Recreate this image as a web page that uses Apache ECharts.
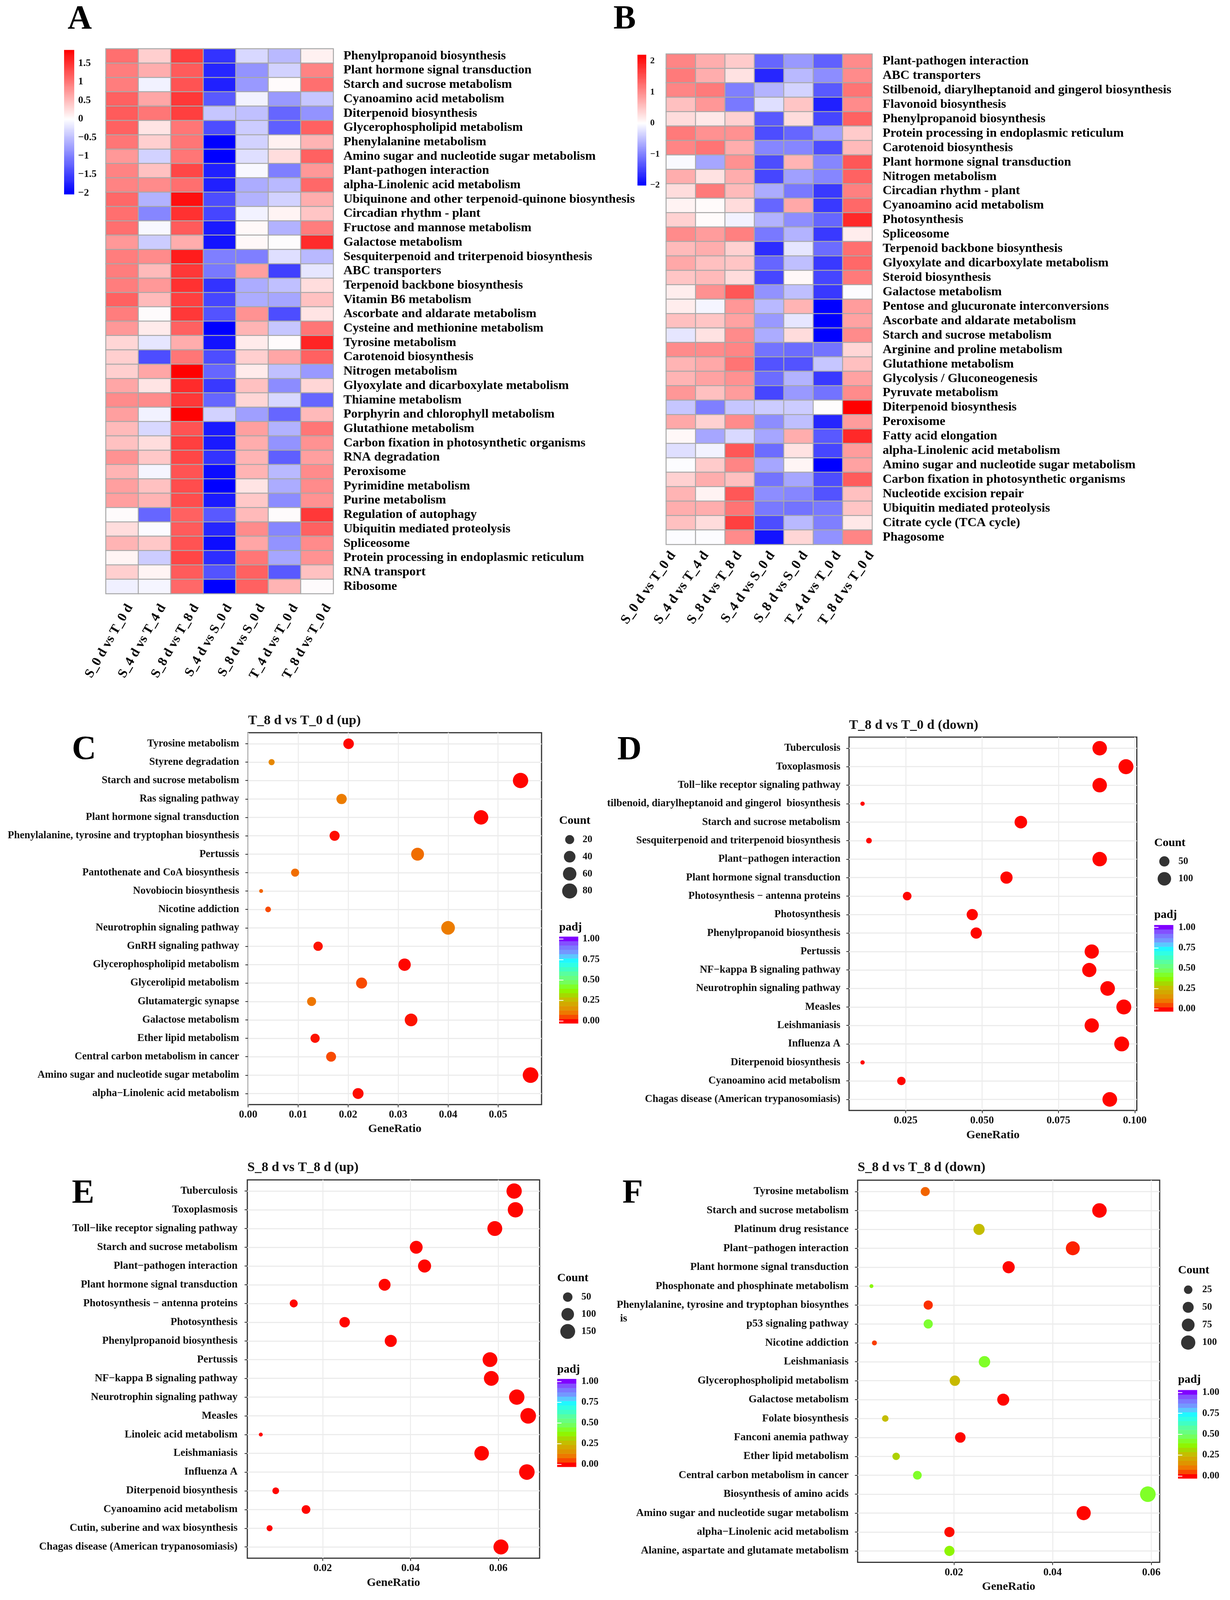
<!DOCTYPE html>
<html><head><meta charset="utf-8">
<style>html,body{margin:0;padding:0;background:#fff;overflow:hidden}#c{width:3148px}</style>
<script src="https://cdn.jsdelivr.net/npm/echarts@6/dist/echarts.min.js"></script>
</head><body><div id="c"></div>
<script>
const FONT='"Liberation Serif",serif';
const compLabels=['S_0 d vs T_0 d','S_4 d vs T_4 d','S_8 d vs T_8 d','S_4 d vs S_0 d','S_8 d vs S_0 d','T_4 d vs T_0 d','T_8 d vs T_0 d'];

const aPathways=['Phenylpropanoid biosynthesis','Plant hormone signal transduction','Starch and sucrose metabolism','Cyanoamino acid metabolism','Diterpenoid biosynthesis','Glycerophospholipid metabolism','Phenylalanine metabolism','Amino sugar and nucleotide sugar metabolism','Plant-pathogen interaction','alpha-Linolenic acid metabolism','Ubiquinone and other terpenoid-quinone biosynthesis','Circadian rhythm - plant','Fructose and mannose metabolism','Galactose metabolism','Sesquiterpenoid and triterpenoid biosynthesis','ABC transporters','Terpenoid backbone biosynthesis','Vitamin B6 metabolism','Ascorbate and aldarate metabolism','Cysteine and methionine metabolism','Tyrosine metabolism','Carotenoid biosynthesis','Nitrogen metabolism','Glyoxylate and dicarboxylate metabolism','Thiamine metabolism','Porphyrin and chlorophyll metabolism','Glutathione metabolism','Carbon fixation in photosynthetic organisms','RNA degradation','Peroxisome','Pyrimidine metabolism','Purine metabolism','Regulation of autophagy','Ubiquitin mediated proteolysis','Spliceosome','Protein processing in endoplasmic reticulum','RNA transport','Ribosome'];
const aValues=[
[1.05,.35,1.4,-1.6,-.3,-.55,.1],[.95,.6,1.2,-1.7,-.85,-.35,.9],[.95,-.1,1.25,-1.75,-.8,.02,1.05],[1.15,.65,1.45,-1.3,-.1,-.8,-.45],[1.2,1.0,1.4,-.45,-.5,-1.2,-.85],
[1.15,.2,1.0,-1.4,-.4,-1.25,1.15],[1.0,.35,1.0,-2.0,-.35,.1,.55],[.75,-.35,1.0,-2.0,-.25,.25,1.15],[.9,.45,1.35,-1.75,-.05,-1.0,.75],[.9,.85,1.05,-1.75,-.65,-.55,1.1],
[1.1,-.6,1.75,-1.4,-.6,-.35,.6],[1.05,-.95,1.5,-1.45,-.1,.08,.42],[1.05,-.05,1.2,-1.8,.05,-.6,.95],[.75,-.4,.6,-1.85,.05,0,1.55],[.95,.85,1.65,-1.0,-1.0,-.25,-.55],
[.95,.5,1.45,-1.05,.7,-1.5,-.2],[.95,.75,1.5,-1.6,-.65,-.5,.25],[1.15,.5,1.4,-1.45,-.65,-.7,.45],[.95,.01,1.45,-1.35,.8,-1.4,.2],[.75,.15,1.15,-2.0,.55,-.45,1.0],
[.3,-.2,.6,-1.85,.15,.02,1.6],[.35,-1.4,1.0,-1.4,.35,.65,1.15],[.35,.65,1.86,-1.2,.15,-.5,-.8],[.65,.2,1.55,-1.55,.45,-.9,.3],[.85,.85,1.45,-1.2,.3,-.3,-1.2],
[.7,-.1,1.85,-.35,-.75,-1.2,.5],[.5,-.3,1.25,-1.8,.7,-.6,1.0],[.45,.25,1.4,-1.8,.6,-.85,.8],[.8,.4,1.35,-1.6,.55,-1.25,.7],[.55,-.08,1.25,-1.9,.55,-.55,.85],
[.7,.45,1.3,-2.0,.2,-.65,.85],[.7,.55,1.3,-1.8,.4,-.9,.8],[.01,-1.2,1.15,-1.3,.5,.01,1.45],[.25,-.03,1.2,-1.7,.85,-.95,1.15],[.55,.4,1.25,-1.9,.65,-.85,.85],
[.08,-.4,1.35,-1.65,1.0,-.7,.8],[.35,.08,1.2,-1.35,1.15,-1.3,.45],[-.12,-.08,1.1,-2.0,1.15,.55,.01]];
const aTicks=[-2,-1.5,-1,-.5,0,.5,1,1.5];

const bPathways=['Plant-pathogen interaction','ABC transporters','Stilbenoid, diarylheptanoid and gingerol biosynthesis','Flavonoid biosynthesis','Phenylpropanoid biosynthesis','Protein processing in endoplasmic reticulum','Carotenoid biosynthesis','Plant hormone signal transduction','Nitrogen metabolism','Circadian rhythm - plant','Cyanoamino acid metabolism','Photosynthesis','Spliceosome','Terpenoid backbone biosynthesis','Glyoxylate and dicarboxylate metabolism','Steroid biosynthesis','Galactose metabolism','Pentose and glucuronate interconversions','Ascorbate and aldarate metabolism','Starch and sucrose metabolism','Arginine and proline metabolism','Glutathione metabolism','Glycolysis / Gluconeogenesis','Pyruvate metabolism','Diterpenoid biosynthesis','Peroxisome','Fatty acid elongation','alpha-Linolenic acid metabolism','Amino sugar and nucleotide sugar metabolism','Carbon fixation in photosynthetic organisms','Nucleotide excision repair','Ubiquitin mediated proteolysis','Citrate cycle (TCA cycle)','Phagosome'];
const bValues=[
[1.05,.7,.45,-1.2,-.8,-1.25,1.0],[1.15,.7,.25,-1.7,-.55,-.9,1.0],[1.05,1.15,-1.0,-.6,-.35,-1.3,1.2],[.55,.9,-1.05,-.25,.5,-1.75,1.0],[.3,.2,.4,-1.3,.3,-1.45,1.35],
[1.15,.95,.95,-1.4,-1.2,-.75,.45],[1.05,1.2,.7,-.95,-.95,-1.4,.6],[-.05,-.7,.95,-1.4,.65,-.95,1.45],[.7,.25,.7,-1.45,-.75,-.95,1.35],[.3,1.15,.6,-.65,-1.05,-1.55,1.1],
[.1,.03,.3,-1.2,.75,-1.55,1.3],[.4,.03,-.1,-.6,-.9,-1.2,1.85],[1.0,.85,1.1,-1.05,-.6,-1.55,.15],[.6,.7,.4,-1.65,-.2,-1.15,1.25],[.75,.55,.5,-1.2,-.5,-1.55,1.3],
[.5,.6,.3,-1.45,.06,-1.45,1.15],[.15,.95,1.45,-.85,-.5,-1.55,-.02],[.15,-.08,.9,-.55,.65,-2.0,.85],[.55,.5,.8,-.8,-.2,-2.0,.8],[-.2,.25,1.0,-.65,.3,-2.0,1.0],
[1.0,1.0,1.05,-1.1,-1.15,-1.1,.35],[.65,.75,1.2,-1.35,-1.35,-.45,.55],[.65,.8,.95,-1.15,-.6,-1.55,.8],[.9,.55,.85,-1.45,-.8,-1.1,1.0],[-.45,-1.0,-.45,-.4,-.4,.01,2.2],
[.75,.4,1.0,-.9,-.5,-1.7,.85],[.06,-.7,-.3,-.7,.7,-1.3,1.85],[-.25,-.1,1.45,-1.15,.25,-1.45,.85],[-.02,.45,1.05,-.7,.08,-2.0,.8],[.4,.7,.55,-1.1,-.7,-1.4,1.4],
[.65,.1,1.45,-.9,-.95,-1.35,.55],[.7,.7,1.2,-1.05,-1.1,-1.05,.5],[.55,.3,1.65,-1.4,-.55,-1.0,.2],[-.02,-.02,1.0,-1.85,.35,-.85,1.05]];
const bTicks=[-2,-1,0,1,2];

const cTerms=['Tyrosine metabolism','Styrene degradation','Starch and sucrose metabolism','Ras signaling pathway','Plant hormone signal transduction','Phenylalanine, tyrosine and tryptophan biosynthesis','Pertussis','Pantothenate and CoA biosynthesis','Novobiocin biosynthesis','Nicotine addiction','Neurotrophin signaling pathway','GnRH signaling pathway','Glycerophospholipid metabolism','Glycerolipid metabolism','Glutamatergic synapse','Galactose metabolism','Ether lipid metabolism','Central carbon metabolism in cancer','Amino sugar and nucleotide sugar metabolim','alpha\u2212Linolenic acid metabolism'];
const cRatio=[.0201,.0047,.0545,.0187,.0466,.0173,.0339,.0094,.0026,.0040,.0400,.0140,.0313,.0227,.0127,.0326,.0134,.0166,.0565,.0220];
const cCount=[31,7,84,29,72,27,53,15,4,6,62,22,48,35,20,51,21,26,88,34];
const cPadj=[0,.13,0,.11,0,.005,.09,.09,.08,.05,.11,.01,0,.05,.1,.01,.01,.05,0,.005];

const dTerms=['Tuberculosis','Toxoplasmosis','Toll\u2212like receptor signaling pathway','tilbenoid, diarylheptanoid and gingerol  biosynthesis','Starch and sucrose metabolism','Sesquiterpenoid and triterpenoid biosynthesis','Plant\u2212pathogen interaction','Plant hormone signal transduction','Photosynthesis \u2212 antenna proteins','Photosynthesis','Phenylpropanoid biosynthesis','Pertussis','NF\u2212kappa B signaling pathway','Neurotrophin signaling pathway','Measles','Leishmaniasis','Influenza A','Diterpenoid biosynthesis','Cyanoamino acid metabolism','Chagas disease (American trypanosomiasis)'];
const dRatio=[.0885,.0971,.0885,.0109,.0627,.0130,.0885,.0580,.0255,.0468,.0481,.0859,.0851,.0911,.0964,.0859,.0957,.0109,.0236,.0918];
const dCount=[119,130,119,15,84,17,119,78,34,63,64,115,114,122,129,115,128,15,32,123];
const dPadj=[0,0,0,0,0,0,0,0,0,0,0,0,0,0,0,0,0,0,0,0];

const eTerms=['Tuberculosis','Toxoplasmosis','Toll\u2212like receptor signaling pathway','Starch and sucrose metabolism','Plant\u2212pathogen interaction','Plant hormone signal transduction','Photosynthesis \u2212 antenna proteins','Photosynthesis','Phenylpropanoid biosynthesis','Pertussis','NF\u2212kappa B signaling pathway','Neurotrophin signaling pathway','Measles','Linoleic acid metabolism','Leishmaniasis','Influenza A','Diterpenoid biosynthesis','Cyanoamino acid metabolism','Cutin, suberine and wax biosynthesis','Chagas disease (American trypanosomiasis)'];
const eRatio=[.0636,.0639,.0592,.0413,.0432,.0341,.0134,.0250,.0355,.0581,.0584,.0642,.0668,.0059,.0562,.0665,.0093,.0162,.0079,.0606];
const eCount=[162,163,151,105,110,87,34,64,90,148,149,163,170,15,143,169,24,41,20,154];
const ePadj=[0,0,0,0,0,0,0,0,0,0,0,0,0,0,0,0,0,0,0,0];

const fTerms=['Tyrosine metabolism','Starch and sucrose metabolism','Platinum drug resistance','Plant\u2212pathogen interaction','Plant hormone signal transduction','Phosphonate and phosphinate metabolism','Phenylalanine, tyrosine and tryptophan biosynthes','p53 signaling pathway','Nicotine addiction','Leishmaniasis','Glycerophospholipid metabolism','Galactose metabolism','Folate biosynthesis','Fanconi anemia pathway','Ether lipid metabolism','Central carbon metabolism in cancer','Biosynthesis of amino acids','Amino sugar and nucleotide sugar metabolism','alpha\u2212Linolenic acid metabolism','Alanine, aspartate and glutamate metabolism'];
const fRatio=[.0142,.0495,.0251,.0441,.0311,.0033,.0148,.0148,.0039,.0262,.0202,.0300,.0061,.0213,.0083,.0126,.0593,.0463,.0191,.0191];
const fCount=[30,105,53,94,66,7,31,31,8,56,43,64,13,45,18,27,126,98,41,41];
const fPadj=[.08,0,.26,.02,0,.38,.03,.43,.04,.42,.25,0,.26,0,.3,.42,.42,0,.005,.37];

const padjTicks=[0,.25,.5,.75,1];
const padjPalette=['#ff0000','#f84a00','#ee7800','#df9400','#d3a800','#c4be00','#a6d800','#8ff500','#80ff28','#74ff5c','#68ff80','#58ffa0','#40ffc4','#30ffe4','#20f8ff','#5cc8ff','#7498ff','#7c78ff','#8450ff','#8000ff'];

// the layout is measured on a 4326-tall page; it is fitted to the height the window really has
const PAGE_H=4326;
const K=Math.min(1,(window.innerHeight||PAGE_H)/PAGE_H);
const grid=[],xAxis=[],yAxis=[],series=[],visualMap=[],graphicEls=[],titles=[];
function box(l,t,r,b,extra){grid.push(Object.assign({left:l,top:t*K,width:r-l,height:(b-t)*K,containLabel:false},extra||{}));return grid.length-1;}
function text(s,x,y,size,opt){graphicEls.push({type:'text',silent:true,style:Object.assign({text:s,x:x,y:y*K,fontFamily:FONT,fontWeight:'bold',fontSize:size,fill:'#000',textVerticalAlign:'middle',textAlign:'left'},opt||{})});}
function fmtTick(v){return (v<0?'\u2212':'')+Math.abs(v);}
function padjColor(p){const idx=Math.max(0,Math.min(19,(p+.03)/.053-.5));return echarts.color.lerp(idx/19,padjPalette);}

function colorbar(cfg){
  const g=box(cfg.l,cfg.t,cfg.r,cfg.b);
  xAxis.push({gridIndex:g,type:'value',min:0,max:1,show:false});const xi=xAxis.length-1;
  yAxis.push({gridIndex:g,type:'value',position:'right',min:cfg.min,max:cfg.max,axisLine:{show:false},splitLine:{show:false},z:5,
    axisTick:cfg.whiteTicks?{show:true,inside:true,length:11,lineStyle:{color:'#fff',width:2},customValues:cfg.ticks}:{show:false,customValues:cfg.ticks},
    axisLabel:{customValues:cfg.ticks,margin:cfg.margin,fontFamily:FONT,fontWeight:'bold',fontSize:cfg.fontSize,color:'#111',formatter:cfg.format}});
  const yi=yAxis.length-1;
  if(cfg.whiteTicks){yAxis.push({gridIndex:g,type:'value',position:'left',min:cfg.min,max:cfg.max,axisLine:{show:false},splitLine:{show:false},z:5,axisLabel:{show:false},axisTick:{show:true,inside:true,length:11,lineStyle:{color:'#fff',width:2},customValues:cfg.ticks}});}
  const bins=[];const step=(cfg.max-cfg.min)/cfg.n;
  for(let i=0;i<cfg.n;i++)bins.push([cfg.min+i*step,cfg.min+(i+1)*step]);
  series.push({type:'custom',xAxisIndex:xi,yAxisIndex:yi,silent:true,data:bins,clip:false,
    renderItem:function(p,api){const a=api.coord([0,api.value(0)]),b=api.coord([1,api.value(1)]);
      return {type:'rect',shape:{x:a[0],y:b[1],width:b[0]-a[0],height:a[1]-b[1]+.6},style:{fill:cfg.colorOf(p.dataIndex,(api.value(0)+api.value(1))/2)}};}});
}

function heatPanel(cfg){
  const g=box(cfg.l,cfg.t,cfg.r,cfg.b);
  xAxis.push({gridIndex:g,type:'category',data:compLabels,axisLine:{show:false},axisTick:{show:false},splitLine:{show:false},axisLabel:{show:false}});
  const xi=xAxis.length-1;
  yAxis.push({gridIndex:g,type:'category',position:'right',inverse:true,data:cfg.rows,axisLine:{show:false},axisTick:{show:false},splitLine:{show:false},
    axisLabel:{interval:0,margin:cfg.yMargin,fontFamily:FONT,fontWeight:'bold',fontSize:cfg.ySize,color:'#000'}});
  const yi=yAxis.length-1;
  const data=[];cfg.values.forEach((row,r)=>row.forEach((v,c)=>data.push([c,r,v])));
  series.push({type:'heatmap',xAxisIndex:xi,yAxisIndex:yi,data:data,silent:true,progressive:0,itemStyle:{borderColor:'#a8a8a8',borderWidth:2.5}});
  const ramp=v=>v<0?echarts.color.lerp(Math.min(1,-v/2),['#ffffff','#0000ff']):echarts.color.lerp(Math.min(1,v/cfg.vmax),['#ffffff','#ff0000']);
  const stops=[];for(let i=0;i<=80;i++)stops.push(ramp(-2+i/80*(cfg.vmax+2)));
  visualMap.push({show:false,type:'continuous',seriesIndex:series.length-1,dimension:2,min:-2,max:cfg.vmax,inRange:{color:stops}});
  // rotated comparison labels sit on their own, slightly wider axis
  const lg=box(cfg.labL,cfg.b-1,cfg.labR,cfg.b);
  xAxis.push({gridIndex:lg,type:'category',data:compLabels,axisLine:{show:false},axisTick:{show:false},splitLine:{show:false},
    axisLabel:{rotate:cfg.xRot,interval:0,margin:cfg.xMargin,fontFamily:FONT,fontWeight:'bold',fontSize:cfg.xSize,color:'#000'}});
  yAxis.push({gridIndex:lg,type:'value',show:false,min:0,max:1});
  const cb=cfg.cb;
  colorbar({l:cb.l,t:cb.t,r:cb.r,b:cb.b,min:cb.min,max:cb.max,ticks:cfg.ticks,margin:cb.margin,fontSize:cb.size,format:fmtTick,n:120,colorOf:(i,v)=>ramp(v)});
}

function dotPanel(cfg){
  const n=cfg.terms.length,g=box(cfg.l,cfg.t,cfg.r,cfg.b,{show:true,borderColor:'#333',borderWidth:3,backgroundColor:'transparent'});
  const all=cfg.xTicks.concat(cfg.xMinor);
  xAxis.push({gridIndex:g,type:'value',min:cfg.xMin,max:cfg.xMax,
    name:'GeneRatio',nameLocation:'middle',nameGap:cfg.nameGap,nameTextStyle:{fontFamily:FONT,fontWeight:'bold',fontSize:30,color:'#111'},
    axisLine:{show:false},axisTick:{show:true,length:7,lineStyle:{color:'#333',width:2},customValues:cfg.xTicks},
    splitLine:{show:true,lineStyle:{color:'#ececec',width:2.5}},
    axisLabel:{customValues:all,showMinLabel:true,showMaxLabel:true,hideOverlap:false,margin:13,fontFamily:FONT,fontWeight:'bold',fontSize:27,color:'#111',
      formatter:v=>cfg.xTicks.some(t=>Math.abs(t-v)<1e-9)?v.toFixed(cfg.dec):''}});
  const xi=xAxis.length-1;
  const rows=[];for(let i=1;i<=n;i++)rows.push(i);
  yAxis.push({gridIndex:g,type:'value',min:.4,max:n+.6,
    axisLine:{show:false},axisTick:{show:true,length:7,lineStyle:{color:'#333',width:2},customValues:rows},
    splitLine:{show:true,lineStyle:{color:'#ececec',width:3}},
    axisLabel:{customValues:rows,margin:cfg.labelMargin,fontFamily:FONT,fontWeight:'bold',fontSize:cfg.ySize,color:'#111',formatter:v=>cfg.terms[n-v]}});
  const yi=yAxis.length-1;
  const sizeOf=c=>cfg.dMin+(cfg.dMax-cfg.dMin)*Math.sqrt(Math.max(0,c-cfg.cMin)/(cfg.cMax-cfg.cMin));
  series.push({type:'scatter',xAxisIndex:xi,yAxisIndex:yi,silent:true,z:4,
    data:cfg.terms.map((t,i)=>({value:[cfg.ratio[i],n-i],symbolSize:sizeOf(cfg.count[i]),itemStyle:{color:padjColor(cfg.padj[i]),opacity:1}}))});
  titles.push({text:cfg.title,left:cfg.l,top:cfg.titleY*K-19,padding:0,textStyle:{fontFamily:FONT,fontWeight:'bold',fontSize:34.5,color:'#111',lineHeight:38}});
  const L=cfg.legend;
  text('Count',L.titleX,L.countY,30);
  text('padj',L.titleX,L.padjY,30);
  const step=(L.dotYs[L.dotYs.length-1]-L.dotYs[0])/(L.dotYs.length-1);
  const lg=box(L.dotX-25,L.dotYs[0]-step/2,L.dotX+25,L.dotYs[L.dotYs.length-1]+step/2);
  xAxis.push({gridIndex:lg,type:'category',data:['n'],show:false});const lx=xAxis.length-1;
  yAxis.push({gridIndex:lg,type:'category',position:'right',inverse:true,data:L.counts.map(String),axisLine:{show:false},axisTick:{show:false},splitLine:{show:false},
    axisLabel:{interval:0,margin:L.labelX-L.dotX-25,fontFamily:FONT,fontWeight:'bold',fontSize:25,color:'#111'}});
  series.push({type:'scatter',xAxisIndex:lx,yAxisIndex:yAxis.length-1,silent:true,data:L.counts.map(c=>({value:['n',String(c)],symbolSize:sizeOf(c),itemStyle:{color:'#000'}}))});
  const u=(L.zeroY-L.oneY);
  colorbar({l:L.barL,r:L.barL+49,t:L.oneY-.03*u,b:L.zeroY+.03*u,min:-.03,max:1.03,ticks:padjTicks,margin:L.labelX-L.barL-49,fontSize:25,whiteTicks:true,format:v=>v.toFixed(2),n:20,colorOf:i=>padjPalette[i]});
}

heatPanel({l:271,r:853,t:132,b:1605,labL:290,labR:882,rows:aPathways,values:aValues,ticks:aTicks,vmax:1.86,xMargin:30,xSize:34,xRot:60,yMargin:26,ySize:32.5,
  cb:{l:164,r:190,t:135,b:525,min:-2.03,max:1.86,margin:10,size:26}});
heatPanel({l:1705,r:2232,t:146,b:1472,labL:1680,labR:2272,rows:bPathways,values:bValues,ticks:bTicks,vmax:2.2,xMargin:22,xSize:35,xRot:55,yMargin:27,ySize:32.6,
  cb:{l:1631.5,r:1654,t:148,b:501,min:-2,max:2.2,margin:10,size:23}});

dotPanel({title:'T_8 d vs T_0 d (up)',titleY:1949,l:635,r:1386,t:1981,b:2986.5,terms:cTerms,ratio:cRatio,count:cCount,padj:cPadj,
  xMin:0,xMax:.0587,xTicks:[0,.01,.02,.03,.04,.05],xMinor:[.005,.015,.025,.035,.045,.055],dec:2,nameGap:48,labelMargin:23,ySize:26.5,
  dMin:10,dMax:40,cMin:4,cMax:88,
  legend:{titleX:1431,countY:2219,padjY:2508,dotX:1458,dotYs:[2270,2316,2362,2409],counts:[20,40,60,80],labelX:1491,barL:1431,oneY:2539,zeroY:2760}});
dotPanel({title:'T_8 d vs T_0 d (down)',titleY:1961,l:2173,r:2909.5,t:1993,b:3002.5,terms:dTerms,ratio:dRatio,count:dCount,padj:dPadj,
  xMin:.00648,xMax:.10065,xTicks:[.025,.05,.075,.1],xMinor:[.0125,.0375,.0625,.0875],dec:3,nameGap:48,labelMargin:22,ySize:26.7,
  dMin:11,dMax:38.5,cMin:15,cMax:131,
  legend:{titleX:2954,countY:2279,padjY:2474,dotX:2980,dotYs:[2329,2376],counts:[50,100],labelX:3016,barL:2954,oneY:2507.5,zeroY:2728}});
dotPanel({title:'S_8 d vs T_8 d (up)',titleY:3157,l:633,r:1381,t:3190,b:4213,terms:eTerms,ratio:eRatio,count:eCount,padj:ePadj,
  xMin:.00283,xMax:.0694,xTicks:[.02,.04,.06],xMinor:[.01,.03,.05],dec:2,nameGap:48,labelMargin:25,ySize:27.1,
  dMin:10,dMax:40,cMin:15,cMax:170,
  legend:{titleX:1426,countY:3456,padjY:3703,dotX:1453,dotYs:[3507,3553,3600],counts:[50,100,150],labelX:1488,barL:1426,oneY:3735,zeroY:3959}});
dotPanel({title:'S_8 d vs T_8 d (down)',titleY:3157,l:2195,r:2968,t:3191,b:4224,terms:fTerms,ratio:fRatio,count:fCount,padj:fPadj,
  xMin:.0005,xMax:.0617,xTicks:[.02,.04,.06],xMinor:[.01,.03,.05],dec:2,nameGap:48,labelMargin:23,ySize:27.4,
  dMin:10,dMax:40,cMin:7,cMax:126,
  legend:{titleX:3015,countY:3435,padjY:3731,dotX:3041,dotYs:[3487,3535.5,3582,3630],counts:[25,50,75,100],labelX:3077,barL:3015,oneY:3765,zeroY:3990.5}});

text('is',1587,3565,27.4);
[['A',173,54],['B',1570,54],['C',184,2029],['D',1580,2030],['E',184,3228],['F',1593,3228]].forEach(a=>text(a[0],a[1],a[2],86));

const el=document.getElementById('c');
el.style.height=Math.round(PAGE_H*K)+'px';
const chart=echarts.init(el,null,{width:3148,height:Math.round(PAGE_H*K)});
chart.setOption({animation:false,backgroundColor:'#fff',title:titles,grid,xAxis,yAxis,series,visualMap,graphic:{elements:graphicEls}});
</script></body></html>
